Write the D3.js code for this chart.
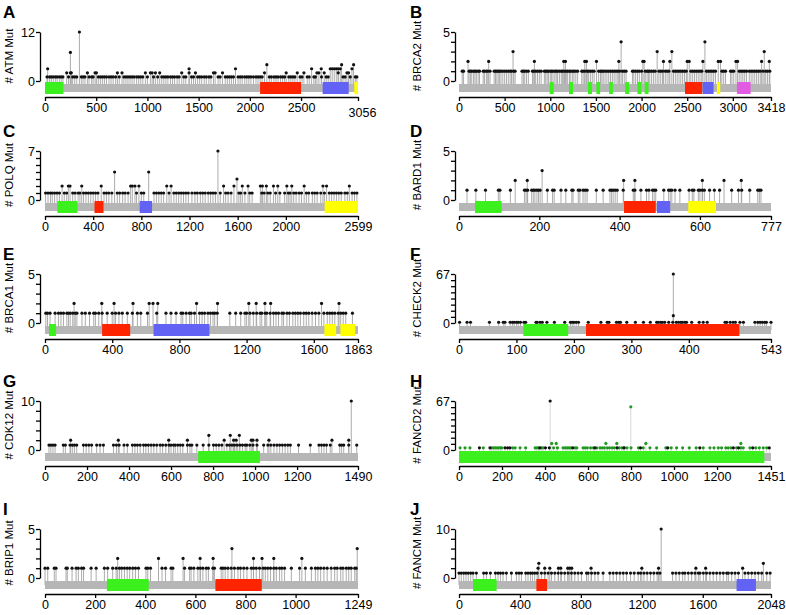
<!DOCTYPE html>
<html><head><meta charset="utf-8">
<script src="https://cdn.jsdelivr.net/npm/d3@7"></script>
<style>
body{margin:0;background:#fff}
text{font-family:"Liberation Sans",Arial,sans-serif}
</style>
</head><body>
<svg id="c" width="786" height="615"></svg>
<script>
// ---------- DATA ----------
// A: ATM
const ATM_single = [20,45,62,80,101,118,140,158,175,230,270,290,310,355,372,390,430,455,470,520,540,560,580,600,625,645,665,690,725,770,790,810,830,850,870,895,915,935,955,1000,1060,1100,1140,1160,1180,1200,1225,1245,1265,1290,1310,1355,1375,1430,1450,1490,1510,1530,1555,1575,1600,1620,1690,1710,1760,1780,1800,1820,1840,1885,1905,1925,1950,1970,1990,2010,2035,2060,2080,2100,2120,2190,2210,2235,2255,2275,2300,2320,2340,2380,2400,2420,2440,2490,2510,2560,2580,2625,2640,2700,2745,2765,2910,2930,2980,3030,3045];
const ATM_multi = [[26,3],[212,2],[248,7],[248,2],[257,2],[336,12],[414,2],[489,2],[502,2],[707,2],[752,2],[980,2],[1029,2],[1046,2],[1078,2],[1120,2],[1335,2],[1407,3],[1407,2],[1469,2],[1645,2],[1661,2],[1733,2],[1860,3],[2143,2],[2166,4],[2355,2],[2463,2],[2528,2],[2603,3],[2655,2],[2674,2],[2697,3],[2726,2],[2785,3],[2804,3],[2824,3],[2844,3],[2863,3],[2863,2],[2883,3],[2896,4],[2948,2],[2964,2],[2997,3],[3013,4]];
const ATM_domains = [[0,180,"g"],[2100,2500,"r"],[2711,2965,"b"],[3020,3056,"y"]];
const ATM_xticks = [0,500,1000,1500,2000,2500,3056];
const ATM_yticks = [0,12];

// B: BRCA2
const BRCA2_single = [35,50,110,125,140,160,175,190,210,225,265,280,300,315,340,385,400,415,430,445,460,480,500,520,540,560,575,600,615,690,705,720,740,760,805,820,840,860,880,900,935,950,965,980,1000,1015,1030,1050,1065,1080,1100,1120,1135,1155,1175,1190,1210,1225,1245,1260,1280,1300,1345,1360,1380,1405,1420,1440,1460,1480,1530,1550,1565,1580,1600,1620,1640,1660,1680,1700,1720,1740,1760,1790,1810,1830,1900,1915,1935,1955,1975,2000,2040,2060,2075,2090,2110,2130,2150,2190,2210,2230,2260,2280,2300,2350,2370,2390,2410,2430,2450,2470,2490,2540,2560,2580,2600,2620,2640,2660,2710,2730,2750,2770,2790,2810,2880,2900,2920,2975,2990,3010,3070,3090,3110,3130,3150,3180,3200,3220,3240,3260,3280,3300,3330,3360,3380,3405];
const BRCA2_multi = [[99,2],[325,2],[592,3],[826,2],[1148,2],[1166,2],[1378,2],[1396,2],[1506,2],[1751,2],[1776,4],[2014,2],[2028,2],[2171,3],[2240,2],[2310,2],[2332,3],[2500,2],[2522,2],[2672,2],[2694,4],[2840,2],[2865,2],[3034,2],[3052,2],[3315,2],[3344,3],[3399,2]];
const BRCA2_domains = [[993,1037,"g"],[1205,1249,"g"],[1413,1457,"g"],[1505,1546,"g"],[1645,1686,"g"],[1820,1864,"g"],[1955,1999,"g"],[2034,2076,"g"],[2476,2665,"r"],[2669,2789,"b"],[2826,2862,"y"],[3045,3195,"m"]];
const BRCA2_xticks = [0,500,1000,1500,2000,2500,3000,3418];
const BRCA2_yticks = [0,1,2,3,4,5];

// C: POLQ
const POLQ_single = [5,25,45,60,80,100,120,160,180,230,250,275,290,320,340,360,380,400,420,440,490,510,530,555,600,620,645,665,690,760,800,820,905,925,945,965,985,1030,1070,1090,1110,1130,1150,1170,1190,1220,1245,1265,1290,1310,1330,1355,1375,1395,1415,1455,1500,1520,1545,1610,1625,1660,1700,1720,1800,1820,1850,1870,1915,1950,1990,2020,2035,2065,2085,2110,2130,2170,2190,2220,2240,2260,2290,2320,2360,2380,2400,2420,2440,2460,2490,2510,2550,2570,2590];
const POLQ_multi = [[142,2],[194,2],[208,2],[305,2],[467,2],[578,4],[711,2],[725,2],[747,2],[780,2],[861,4],[1011,2],[1047,2],[1436,7],[1483,2],[1569,2],[1594,3],[1638,2],[1686,2],[1788,2],[1805,2],[1838,2],[1897,2],[1933,2],[2008,2],[2049,2],[2152,2],[2308,2],[2338,2],[2527,2]];
const POLQ_domains = [[103,269,"g"],[411,486,"r"],[786,889,"b"],[2322,2599,"y"]];
const POLQ_xticks = [0,400,800,1200,1600,2000,2599];
const POLQ_yticks = [0,1,2,3,4,5,6,7];

// D: BARD1
const BARD1_single = [20,42,66,98,102,128,163,167,171,181,185,189,194,198,202,220,233,237,254,266,281,284,297,301,309,314,319,342,359,376,380,384,389,394,409,434,438,453,467,473,482,486,490,510,522,526,530,538,550,573,581,585,596,600,606,611,624,636,649,679,696,704,724,744,748,752];
const BARD1_multi = [[140,2],[170,2],[207,3],[410,2],[438,2],[606,2],[660,2],[703,2]];
const BARD1_domains = [[40,106,"g"],[411,490,"r"],[493,526,"b"],[571,640,"y"]];
const BARD1_xticks = [0,200,400,600,777];
const BARD1_yticks = [0,1,2,3,4,5];

// E: BRCA1
const BRCA1_single = [5,15,30,60,80,95,110,130,140,150,165,180,190,220,240,265,290,300,320,340,370,400,420,440,460,490,520,550,570,610,665,720,750,780,810,820,840,860,870,890,920,935,950,970,985,1000,1010,1025,1100,1135,1165,1190,1200,1220,1240,1260,1280,1290,1310,1320,1340,1360,1375,1390,1410,1420,1440,1455,1475,1490,1505,1520,1540,1555,1570,1590,1610,1630,1660,1680,1695,1710,1725,1745,1760,1775,1790,1830];
const BRCA1_multi = [[173,2],[338,2],[411,2],[524,2],[620,2],[643,2],[671,2],[902,2],[1027,2],[1213,2],[1257,2],[1309,2],[1343,2],[1646,2],[1750,2]];
const BRCA1_domains = [[24,66,"g"],[340,507,"r"],[646,979,"b"],[1663,1733,"y"],[1758,1847,"y"]];
const BRCA1_xticks = [0,400,800,1200,1600,1863];
const BRCA1_yticks = [0,1,2,3,4,5];

// F: CHEK2
const CHEK2_single = [1,14,20,53,69,77,80,89,93,96,100,103,107,113,116,134,136,141,145,153,166,184,194,197,200,204,208,225,247,258,261,274,278,281,292,307,321,333,344,347,351,354,358,365,372,378,382,386,389,393,396,405,418,425,432,463,466,472,477,481,489,495,515,520,524,528,532,535,543];
const CHEK2_multi = [[373,10],[373,67]];
const CHEK2_domains = [[112,190,"g"],[221,488,"r"]];
const CHEK2_xticks = [0,100,200,300,400,543];
const CHEK2_yticks = [0,8.4,16.8,25.1,33.5,41.9,50.3,58.6,67];

// G: CDK12
const CDK12_single = [19,28,38,48,87,97,119,130,140,151,183,196,209,222,246,262,278,326,340,353,376,392,416,428,440,453,469,480,492,505,518,532,548,560,575,590,600,612,620,632,644,656,678,690,699,723,753,780,802,815,828,842,866,878,890,902,915,928,940,953,961,975,990,1009,1041,1061,1075,1090,1104,1117,1130,1143,1156,1168,1207,1263,1304,1316,1328,1340,1358,1403,1412,1422,1446,1484];
const CDK12_multi = [[122,2],[349,2],[589,2],[678,2],[780,3],[853,2],[882,3],[898,2],[910,2],[925,3],[982,2],[990,2],[1009,2],[1066,2],[1366,2],[1446,2],[1458,10]];
const CDK12_domains = [[729,1023,"g"]];
const CDK12_xticks = [0,200,400,600,800,1000,1200,1490];
const CDK12_yticks = [0,2,4,6,8,10];

// H: FANCD2 (two mutation classes)
const FANCD2_classA = [5,28,51,113,152,160,168,176,184,192,199,250,261,284,310,354,362,370,384,391,440,458,484,494,503,512,520,540,548,577,587,597,612,625,641,656,666,676,690,700,712,722,745,757,768,781,800,835,857,888,919,962,987,1012,1040,1071,1103,1136,1167,1186,1206,1221,1241,1252,1265,1291,1311,1322,1353,1380,1397,1415,1431];
const FANCD2_classB = [95,144,214,226,237,376,402,420,529,632,735,767,844,971,1120,1276,1300,1366,1443];
const FANCD2_levelBase = 3;
const FANCD2_multiA = [[431,9],[452,9],[683,9],[734,9],[799,59],[869,9],[1311,9]];
const FANCD2_multiB = [[424,67]];
const FANCD2_domains = [[0,1420,"g"]];
const FANCD2_xticks = [0,200,400,600,800,1000,1200,1451];
const FANCD2_yticks = [0,8.4,16.8,25.1,33.5,41.9,50.3,58.6,67];

// I: BRIP1
const BRIP1_single = [0,11,37,44,84,89,108,124,133,146,154,184,204,237,250,270,284,297,306,317,328,338,350,361,373,403,410,421,467,481,503,510,557,577,583,594,610,620,630,643,652,670,676,703,710,719,730,743,756,770,780,793,806,823,832,843,856,870,879,889,900,913,923,936,945,956,983,1016,1039,1063,1079,1089,1100,1113,1126,1142,1156,1166,1180,1189,1202,1212,1222,1236,1242];
const BRIP1_multi = [[290,2],[453,2],[551,2],[619,2],[671,2],[746,3],[832,2],[866,2],[913,2],[1025,2],[1246,3]];
const BRIP1_domains = [[247,414,"g"],[680,865,"r"]];
const BRIP1_xticks = [0,200,400,600,800,1000,1249];
const BRIP1_yticks = [0,1,2,3,4,5];

// J: FANCM
const FANCM_single = [0,15,31,46,61,77,92,114,162,180,206,239,256,272,289,311,344,377,394,410,438,453,469,482,497,513,541,563,585,607,629,651,672,694,716,738,760,782,804,837,848,870,892,913,946,990,1012,1034,1056,1078,1100,1126,1150,1176,1192,1214,1235,1257,1279,1301,1319,1402,1424,1446,1468,1483,1505,1527,1549,1571,1582,1604,1625,1647,1669,1691,1713,1735,1757,1768,1790,1812,1834,1877,1899,1921,1943,1965,1987,2020,2042];
const FANCM_multi = [[519,2],[524,3],[563,2],[596,2],[653,2],[668,2],[714,2],[727,2],[740,2],[867,2],[1200,2],[1310,2],[1327,10],[1555,2],[1619,2],[1862,2],[1998,3]];
const FANCM_domains = [[92,247,"g"],[508,578,"r"],[1822,1949,"b"]];
const FANCM_xticks = [0,400,800,1200,1600,2048];
const FANCM_yticks = [0,2,4,6,8,10];

// ---------- BUILD ----------
const domainColor = {g:"#3cf01e", r:"#ff2400", b:"#6262f4", y:"#ffff00", m:"#e05ce0"};
const toMuts = (single, multi, base, cls) =>
  single.map(p => ({p, c: base, cls})).concat(multi.map(([p, c]) => ({p, c, cls})));

const panels = [
  {letter:"A", gene:"ATM",   len:3056, ymax:12, yt:ATM_yticks,   xt:ATM_xticks,   dom:ATM_domains,   muts:toMuts(ATM_single, ATM_multi, 1, "k"), col:0, row:0, lastDy:5},
  {letter:"B", gene:"BRCA2", len:3418, ymax:5,  yt:BRCA2_yticks, xt:BRCA2_xticks, dom:BRCA2_domains, muts:toMuts(BRCA2_single, BRCA2_multi, 1, "k"), col:1, row:0},
  {letter:"C", gene:"POLQ",  len:2599, ymax:7,  yt:POLQ_yticks,  xt:POLQ_xticks,  dom:POLQ_domains,  muts:toMuts(POLQ_single, POLQ_multi, 1, "k"), col:0, row:1},
  {letter:"D", gene:"BARD1", len:777,  ymax:5,  yt:BARD1_yticks, xt:BARD1_xticks, dom:BARD1_domains, muts:toMuts(BARD1_single, BARD1_multi, 1, "k"), col:1, row:1},
  {letter:"E", gene:"BRCA1", len:1863, ymax:5,  yt:BRCA1_yticks, xt:BRCA1_xticks, dom:BRCA1_domains, muts:toMuts(BRCA1_single, BRCA1_multi, 1, "k"), col:0, row:2},
  {letter:"F", gene:"CHECK2",len:543,  ymax:67, yt:CHEK2_yticks, xt:CHEK2_xticks, dom:CHEK2_domains, muts:toMuts(CHEK2_single, CHEK2_multi, 1, "k"), col:1, row:2},
  {letter:"G", gene:"CDK12", len:1490, ymax:10, yt:CDK12_yticks, xt:CDK12_xticks, dom:CDK12_domains, muts:toMuts(CDK12_single, CDK12_multi, 1, "k"), col:0, row:3},
  {letter:"H", gene:"FANCD2",len:1451, ymax:67, yt:FANCD2_yticks,xt:FANCD2_xticks,dom:FANCD2_domains,
     muts:toMuts(FANCD2_classA, FANCD2_multiA, FANCD2_levelBase, "g").concat(toMuts(FANCD2_classB, FANCD2_multiB, FANCD2_levelBase, "k")), col:1, row:3, light:true},
  {letter:"I", gene:"BRIP1", len:1249, ymax:5,  yt:BRIP1_yticks, xt:BRIP1_xticks, dom:BRIP1_domains, muts:toMuts(BRIP1_single, BRIP1_multi, 1, "k"), col:0, row:4},
  {letter:"J", gene:"FANCM", len:2048, ymax:10, yt:FANCM_yticks, xt:FANCM_xticks, dom:FANCM_domains, muts:toMuts(FANCM_single, FANCM_multi, 1, "k"), col:1, row:4},
];

// ---------- LAYOUT ----------
const cols = [
  {axis:40,  x0:45,  x1:358, label:13,  letter:3},
  {axis:455, x0:459, x1:771, label:421, letter:410}
];
const rowY = [0, 119, 242, 369, 497];
const yTop = 32, yZero = 81, barY = 84, barH = 8, domY = 82, domH = 12, xAxisY = 97;

const svg = d3.select("#c");
svg.append("rect").attr("width",786).attr("height",615).attr("fill","#fff");

panels.forEach(P => {
  const C = cols[P.col];
  const g = svg.append("g").attr("transform", `translate(0,${rowY[P.row]})`);
  const x = d3.scaleLinear().domain([0, P.len]).range([C.x0, C.x1]);
  const y = d3.scaleLinear().domain([0, P.ymax]).range([yZero, yTop]);

  // panel letter
  g.append("text").attr("x", C.letter).attr("y", 18)
    .attr("font-size", 17).attr("font-weight", "bold").text(P.letter);
  // y label
  g.append("text").attr("transform", `translate(${C.label},56) rotate(-90)`)
    .attr("text-anchor","middle").attr("font-size", 11.5).text(`# ${P.gene} Mut`);

  // stems
  g.append("g").selectAll("line").data(P.muts).join("line")
    .attr("x1", d => x(d.p)).attr("x2", d => x(d.p))
    .attr("y1", barY + barH/2).attr("y2", d => y(d.c))
    .attr("stroke", P.light ? "#d4d4d4" : "#a3a3a3").attr("stroke-width", 0.9);

  // protein bar
  g.append("rect").attr("x", x(0)).attr("y", barY)
    .attr("width", x(P.len) - x(0)).attr("height", barH).attr("fill", "#b6b6b6");
  // domains
  g.append("g").selectAll("rect").data(P.dom).join("rect")
    .attr("x", d => x(d[0])).attr("y", domY)
    .attr("width", d => x(d[1]) - x(d[0])).attr("height", domH)
    .attr("fill", d => domainColor[d[2]]);

  // dots
  g.append("g").selectAll("circle").data(P.muts).join("circle")
    .attr("cx", d => x(d.p)).attr("cy", d => y(d.c)).attr("r", 1.6)
    .attr("fill", d => d.cls === "g" ? "#1f9a1f" : "#111");

  // y axis
  const ya = g.append("g").attr("transform", `translate(${C.axis},0)`)
    .call(d3.axisLeft(y).tickValues(P.yt).tickSize(4).tickSizeOuter(0).tickPadding(1)
      .tickFormat(d => (d === 0 || d === P.ymax) ? d : ""));
  ya.selectAll("text").attr("font-size", 12.5).attr("font-family", '"Liberation Sans",Arial,sans-serif').attr("fill","#000");
  ya.selectAll("path,line").attr("stroke", "#000").attr("stroke-width", 1.3);

  // x axis
  const xa = g.append("g").attr("transform", `translate(0,${xAxisY})`)
    .call(d3.axisBottom(x).tickValues(P.xt).tickSize(4).tickSizeOuter(0).tickPadding(2).tickFormat(d => d));
  xa.selectAll("text").attr("font-size", 12.5).attr("font-family", '"Liberation Sans",Arial,sans-serif').attr("fill","#000");
  xa.selectAll("path,line").attr("stroke", "#000").attr("stroke-width", 1.3);
  if (P.lastDy) {
    xa.selectAll(".tick").filter(d => d === P.len).select("text")
      .attr("transform", `translate(4,${P.lastDy})`);
  }
});
</script>
</body></html>
